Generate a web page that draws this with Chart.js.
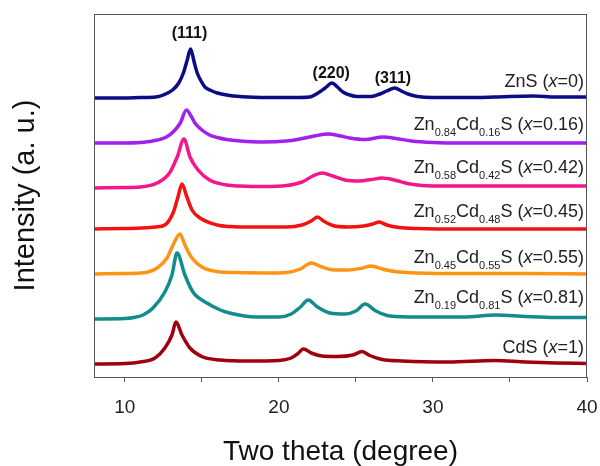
<!DOCTYPE html>
<html>
<head>
<meta charset="utf-8">
<script src="https://cdn.jsdelivr.net/npm/chart.js@4/dist/chart.umd.min.js"></script>
<style>
  html, body { margin: 0; padding: 0; background: #fff; }
  #wrap { width: 600px; height: 466px; }
</style>
</head>
<body>
<div id="wrap"><canvas id="xrd"></canvas></div>
<script>
// XRD patterns, stacked (intensity in arbitrary units incl. offset)
const zns = [[8,279],[10,279],[11,279.5],[12,280],[12.5,282],[13.1,287],[13.5,294],[13.8,304],[14.05,317],[14.27,328],[14.5,315],[14.7,304],[14.95,296],[15.2,290],[15.6,286.5],[16.0,284],[16.8,281.5],[18,280],[20,279.5],[21,279.5],[22,280],[22.54,284],[23.0,289],[23.45,294],[23.8,290],[24.16,285],[24.6,282],[25.07,280.5],[26,280.5],[26.56,283],[27.0,286],[27.53,289],[27.95,286],[28.38,283],[29,280.5],[30,279.5],[32,279.5],[34,280],[36.5,281],[38,280],[40,280]];
const x016 = [[8,234],[10,234],[11,234.5],[11.8,236],[12.7,240],[13.2,246],[13.6,254],[14.0,267],[14.3,261],[14.55,254],[15.0,247],[15.5,242],[16.0,239.5],[16.6,237.5],[17.5,236],[19,235],[20.5,236],[21.2,237.5],[22.3,241],[23.2,243],[24,241],[24.6,239],[25.6,237.5],[26.75,240],[27.6,238.5],[28.6,236],[30,234.5],[32,234],[36,234],[40,234]];
const x042 = [[8,189],[10,189.5],[11,190],[12.1,194],[12.9,204],[13.4,220],[13.84,238],[14.23,220],[14.75,207],[15.5,197],[16.6,192],[17.5,191],[19,190.5],[20.5,191.5],[21.5,195],[22.2,201],[22.8,204],[23.5,201],[24.3,197],[25.2,196],[26,197.5],[26.7,199],[27.5,197],[28.5,193],[30,191],[34,191],[40,191]];
const x045 = [[8,148],[10,148.5],[11,149],[12,150],[12.6,152],[13.13,164],[13.45,180],[13.71,193],[14.03,180],[14.36,167],[14.88,159],[16,152],[16.8,150.5],[18.5,150],[20.5,150],[21.5,152],[22.1,156],[22.5,160],[22.9,156],[23.5,151.5],[24.5,150],[25.5,151],[26.1,153],[26.5,155],[27,152],[27.8,149.5],[29,148.5],[32,148],[40,148]];
const x055 = [[8,103],[10,103.5],[11,104],[11.5,105],[12.1,109],[12.74,119],[13.13,132],[13.58,143],[13.9,132],[14.36,119],[15.0,110],[16.2,105],[17,104.5],[19,104],[20.5,104.5],[21.4,108],[22.1,114],[22.8,110],[23.6,107],[24.5,107],[25.3,108.5],[26.0,111],[26.7,108],[27.5,105.5],[29,104],[32,103.5],[36,103.5],[40,103]];
const x081 = [[8,58],[10,58.5],[10.6,59.5],[11.18,62],[11.83,69],[12.6,85],[13.06,102],[13.39,124],[13.9,102],[14.42,85],[15.33,74],[16.2,67],[16.8,64],[18.5,60],[20,60],[20.8,63],[21.4,70],[21.9,77],[22.5,70],[23.3,64],[24.3,63],[25.0,66],[25.6,73],[26.3,66],[27.2,61],[29,60],[32,60],[34.1,62],[36,60.5],[38,59.5],[40,59.5]];
const cds = [[8,13],[10,13.5],[11,15],[11.96,19],[12.6,29],[13.06,42],[13.32,55],[13.71,42],[14.23,29],[15.07,20],[16.2,17],[18,16],[20,16.5],[20.8,19],[21.2,23],[21.6,28],[22.1,24],[22.8,21],[23.8,20.5],[24.8,22],[25.4,25.5],[25.9,21.5],[26.7,17.5],[28,16],[31,15],[34,16.5],[36,15],[38,14],[40,13.5]];

const patterns = [zns, x016, x042, x045, x055, x081, cds];
const sampleLabels = [
  "ZnS (*x*=0)",
  "Zn_{0.84}Cd_{0.16}S (*x*=0.16)",
  "Zn_{0.58}Cd_{0.42}S (*x*=0.42)",
  "Zn_{0.52}Cd_{0.48}S (*x*=0.45)",
  "Zn_{0.45}Cd_{0.55}S (*x*=0.55)",
  "Zn_{0.19}Cd_{0.81}S (*x*=0.81)",
  "CdS (*x*=1)"
];
const labelLevel = [290, 247, 204, 160, 114, 74, 24];
const colors = ["#0c0c86", "#a020f0", "#f5168c", "#f21212", "#ff9414", "#128c8c", "#a0000e"];

const peakNames = ["(111)", "(220)", "(311)"];
const peakPos = [14.2, 23.4, 27.4];
const peakLevel = [339, 299, 294];

const xTicks = [10, 20, 30, 40];

// draws the sample names (with subscripts) and the hkl labels
const textPlugin = {
  id: "xrdText",
  afterDatasetsDraw(chart) {
    const ctx = chart.ctx;
    const xs = chart.scales.x, ys = chart.scales.y;
    const family = "'Liberation Sans', Arial, sans-serif";
    ctx.save();
    ctx.fillStyle = "#222";
    ctx.textBaseline = "alphabetic";

    sampleLabels.forEach((txt, i) => {
      const parts = txt.split(/(_\{[^}]*\}|\*[^*]*\*)/).filter(p => p !== "");
      const segs = parts.map(p => {
        if (p.startsWith("_{")) return { t: p.slice(2, -1), font: "11px " + family, dy: 6 };
        if (p.startsWith("*")) return { t: p.slice(1, -1), font: "italic 18px " + family, dy: 0 };
        return { t: p, font: "18px " + family, dy: 0 };
      });
      let w = 0;
      segs.forEach(s => { ctx.font = s.font; s.w = ctx.measureText(s.t).width; w += s.w; });
      let x = xs.right - 3 - w;
      const y = ys.getPixelForValue(labelLevel[i]);
      segs.forEach(s => {
        ctx.font = s.font;
        ctx.textAlign = "left";
        ctx.fillText(s.t, x, y + s.dy);
        x += s.w;
      });
    });

    ctx.font = "bold 16px " + family;
    ctx.textAlign = "center";
    ctx.fillStyle = "#111";
    peakNames.forEach((n, i) => {
      ctx.fillText(n, xs.getPixelForValue(peakPos[i]), ys.getPixelForValue(peakLevel[i]));
    });

    // frame around the plot
    const a = chart.chartArea;
    ctx.strokeStyle = "#555";
    ctx.lineWidth = 1;
    ctx.strokeRect(a.left + 0.5, a.top + 0.5, a.right - a.left - 1, a.bottom - a.top);
    ctx.restore();
  }
};

const ctx = document.getElementById("xrd").getContext("2d");
new Chart(ctx, {
  type: "line",
  data: {
    datasets: patterns.map((p, i) => ({
      label: sampleLabels[i],
      data: p.map(d => ({ x: d[0], y: d[1] })),
      borderColor: colors[i],
      borderWidth: 3.5,
      pointRadius: 0,
      fill: false,
      cubicInterpolationMode: "monotone",
    })),
  },
  options: {
    responsive: true,
    maintainAspectRatio: false,
    animation: false,
    layout: { padding: { top: 14, right: 13, left: 0, bottom: 0 } },
    plugins: {
      legend: { display: false },
      tooltip: { enabled: false },
    },
    scales: {
      x: {
        type: "linear",
        min: 8,
        max: 40,
        grid: { display: true, drawOnChartArea: false, drawTicks: true, tickLength: 5, color: "#555" },
        border: { display: true, color: "#555" },
        ticks: {
          stepSize: 5,
          includeBounds: false,
          padding: 14,
          maxRotation: 0,
          color: "#222",
          font: { family: "'Liberation Sans', Arial, sans-serif", size: 19 },
          callback: (v) => (xTicks.includes(v) ? String(v) : ""),
        },
        title: {
          display: true,
          text: "Two theta (degree)",
          color: "#111",
          font: { family: "'Liberation Sans', Arial, sans-serif", size: 28, lineHeight: 1.0 },
          padding: { top: 0, bottom: 0 },
        },
        afterFit: (s) => { s.height = 89; s.paddingLeft = 0; s.paddingRight = 0; },
      },
      y: {
        min: 0,
        max: 363,
        grid: { display: false },
        border: { display: true, color: "#555" },
        ticks: { display: false },
        title: {
          display: true,
          text: "Intensity (a. u.)",
          color: "#111",
          font: { family: "'Liberation Sans', Arial, sans-serif", size: 29 },
          padding: { top: 9, bottom: 0 },
        },
        afterFit: (s) => { s.width = 94; },
      },
    },
  },
  plugins: [textPlugin],
});
</script>
</body>
</html>
